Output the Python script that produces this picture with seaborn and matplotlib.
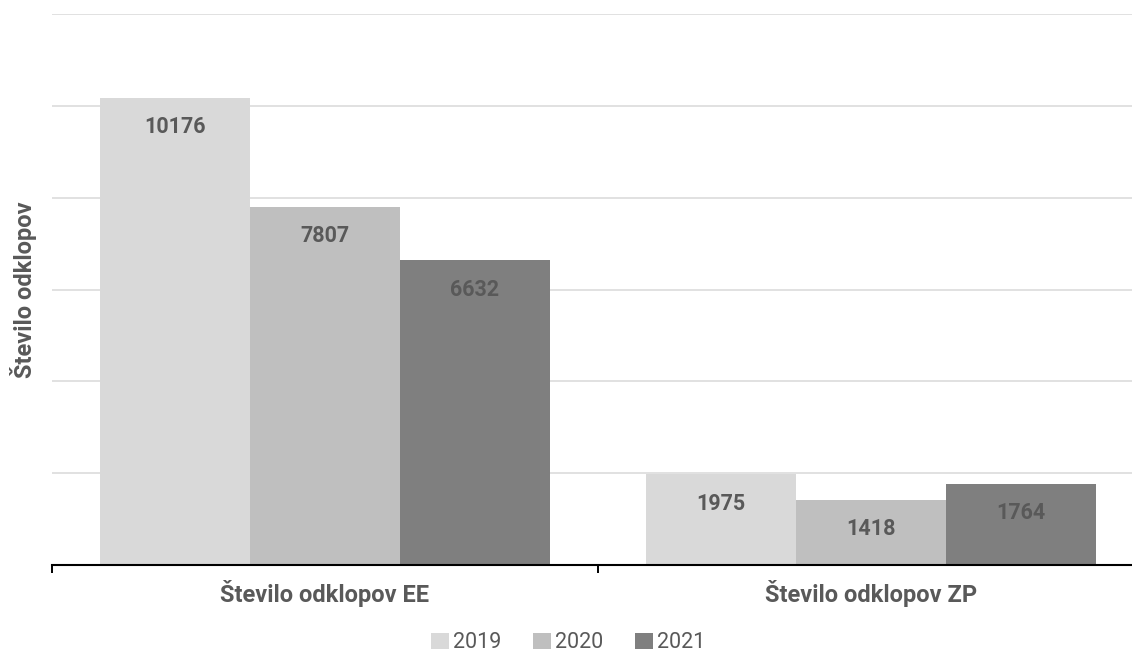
import pandas as pd
import numpy as np
import matplotlib
matplotlib.use('Agg')
import matplotlib.pyplot as plt
import seaborn as sns
from matplotlib.ticker import FixedLocator, NullFormatter

# data
categories = ['Število odklopov EE', 'Število odklopov ZP']
years = ['2019', '2020', '2021']
values_2019 = [10176, 1975]
values_2020 = [7807, 1418]
values_2021 = [6632, 1764]
colors = ['#d9d9d9', '#bfbfbf', '#7f7f7f']
y_ticks = [0, 2000, 4000, 6000, 8000, 10000, 12000]

df = pd.DataFrame({
    'kategorija': categories * 3,
    'leto': [y for y in years for _ in categories],
    'vrednost': values_2019 + values_2020 + values_2021,
})

sns.set_theme(style='white')
plt.rcParams['font.family'] = ['Roboto', 'DejaVu Sans']
text_col = '#595959'

fig = plt.figure(figsize=(11.32, 6.57), dpi=100)
ax = fig.add_axes([52 / 1132, 92 / 657, 1092 / 1132, 551 / 657])

sns.barplot(data=df, x='kategorija', y='vrednost', hue='leto', palette=colors,
            width=0.824, gap=0, saturation=1, linewidth=0, ax=ax, legend=True, zorder=3)

ax.set_xlim(-0.5, 1.5)
ax.set_ylim(0, 12000)
ax.set_yticks(y_ticks)
ax.yaxis.set_major_formatter(NullFormatter())
ax.tick_params(axis='y', length=0)
ax.grid(axis='y', color='#d9d9d9', linewidth=1.1, zorder=0)
ax.set_axisbelow(True)

for c in ax.containers:
    ax.bar_label(c, padding=-29, fontsize=15.5, fontweight='bold', color=text_col)

# category separators as ticks on the bottom axis
ax.xaxis.set_minor_locator(FixedLocator([-0.5, 0.5, 1.5]))
ax.tick_params(axis='x', which='minor', length=6, width=1.4, color='black', direction='out', bottom=True)
ax.tick_params(axis='x', which='major', length=0, pad=11, labelsize=17, labelcolor=text_col)
for lbl in ax.get_xticklabels():
    lbl.set_fontweight('bold')

for s in ['top', 'right', 'left']:
    ax.spines[s].set_visible(False)
ax.spines['bottom'].set_color('black')
ax.spines['bottom'].set_linewidth(1.5)
ax.spines['bottom'].set_zorder(4)

ax.set_xlabel('')
ax.set_ylabel('Število odklopov', fontsize=17, fontweight='bold', color=text_col)
ax.yaxis.set_label_coords(-0.014, 0.5)

handles, labels = ax.get_legend_handles_labels()
ax.get_legend().remove()
fig.legend(handles, labels, loc='center', bbox_to_anchor=(0.502, 14 / 657), ncol=3,
           frameon=False, fontsize=15.5, labelcolor=text_col, handlelength=0.8,
           handleheight=0.8, handletextpad=0.2, columnspacing=1.5, borderpad=0.2)

plt.savefig('out.png', dpi=100)
plt.close()
